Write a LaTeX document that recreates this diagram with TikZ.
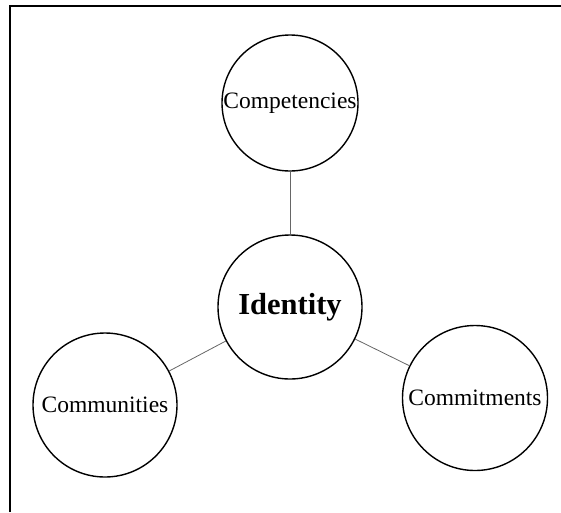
\documentclass[tikz,border=0pt]{standalone}
\usepackage{fontspec}
\setmainfont{Liberation Serif}
\usepackage{tikz}
\usetikzlibrary{positioning}

\begin{document}
\begin{tikzpicture}[x=1pt,y=-1pt,
        bubble/.style={draw, circle, line width=1.4pt, inner sep=0pt, font=\fontsize{23.5}{26}\selectfont},
        link/.style={draw=black!60, line width=0.8pt}]
        \useasboundingbox (0,0) rectangle (561,512);

        % Frame (top and left edges only)
        \draw[line width=2pt] (10,512) -- (10,6) -- (561,6);

        % Centre and the three C's
        \node[bubble, minimum size=144pt, font=\fontsize{30.5}{34}\selectfont\bfseries] (identity) at (290,307) {Identity};
        \node[bubble, minimum size=136pt] (competencies) at (290,103) {Competencies};
        \node[bubble, minimum size=144pt] (communities) at (105,405) {Communities};
        \node[bubble, minimum size=145pt] (commitments) at (475,398) {Commitments};

        % Spokes
        \draw[link] (identity) -- (competencies);
        \draw[link] (identity) -- (communities);
        \draw[link] (identity) -- (commitments);
    \end{tikzpicture}
\end{document}
